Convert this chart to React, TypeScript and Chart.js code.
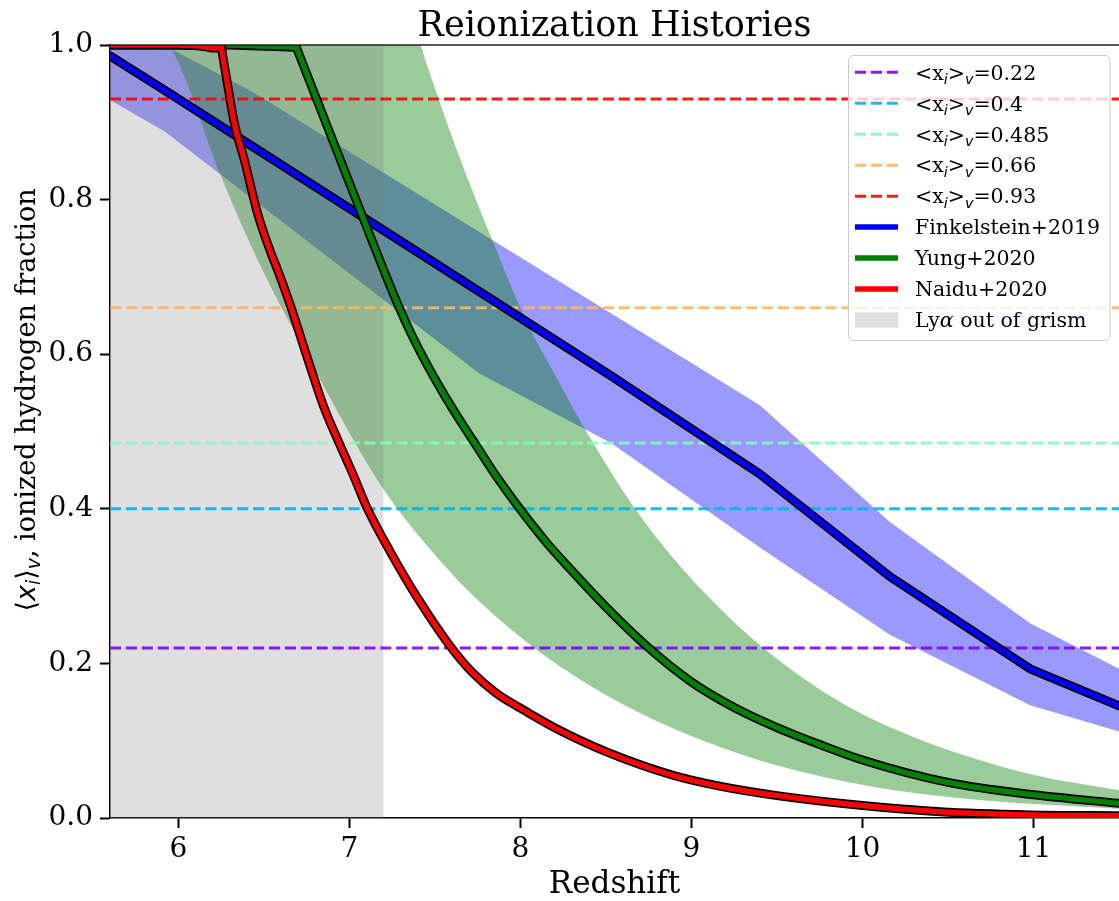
import React, { useEffect, useRef } from 'react';
import { Chart, registerables } from 'chart.js';

Chart.register(...registerables);

// ---------- axes ----------
const xMin = 5.6;
const xMax = 11.5;
const yMin = 0;
const yMax = 1;
const xTickValues = [6, 7, 8, 9, 10, 11];
const yTickValues = [0, 0.2, 0.4, 0.6, 0.8, 1.0];

// ---------- Finkelstein+2019 ----------
const finkelZ = [5.6, 5.93, 8.53, 9.4, 10.16, 10.98, 11.5];
const finkelF = [0.986, 0.94, 0.572, 0.445, 0.3125, 0.193, 0.145];
const finkelUpZ = [5.6, 5.93, 6.43, 9.4, 10.16, 10.98, 11.5];
const finkelUpF = [1.0, 0.998, 0.94, 0.534, 0.383, 0.252, 0.193];
const finkelLowZ = [5.6, 5.92, 7.76, 8.53, 9.4, 10.16, 10.98, 11.5];
const finkelLowF = [0.929, 0.888, 0.575, 0.485, 0.35, 0.237, 0.146, 0.112];

// ---------- Yung+2020 ----------
const yungPlateauZ = [5.6, 6.3, 6.69];
const yungPlateauF = [1.0, 1.0, 0.997];
const yungZ = [6.69, 6.755, 6.93, 7.1, 7.2, 7.28, 7.36, 7.45, 7.55, 7.65, 7.75, 7.85, 8.0, 8.15, 8.3, 8.5, 8.74, 9.0, 9.25, 9.5, 9.75, 10.0, 10.5, 11.0, 11.5];
const yungF = [0.997, 0.96, 0.861, 0.765, 0.709, 0.666, 0.627, 0.588, 0.549, 0.513, 0.479, 0.445, 0.399, 0.357, 0.32, 0.273, 0.222, 0.176, 0.143, 0.117, 0.095, 0.075, 0.046, 0.03, 0.019];
const yungUpZ = [5.6, 7.41, 7.45, 7.53, 7.64, 7.84, 8.03, 8.19, 8.42, 8.67, 8.89, 9.18, 9.42, 9.87, 10.32, 10.98, 11.5];
const yungUpF = [1.0, 1.0, 0.976, 0.925, 0.857, 0.745, 0.645, 0.578, 0.487, 0.4, 0.337, 0.268, 0.22, 0.15, 0.103, 0.057, 0.036];
const yungLowZ = [5.6, 5.93, 6.0, 6.24, 6.5, 6.775, 6.97, 7.2, 7.55, 7.76, 8.11, 8.5, 8.89, 9.28, 9.5, 10.07, 10.65, 11.5];
const yungLowF = [1.0, 1.0, 0.977, 0.835, 0.705, 0.59, 0.51, 0.425, 0.328, 0.28, 0.215, 0.159, 0.116, 0.083, 0.068, 0.04, 0.024, 0.012];

// ---------- Naidu+2020 ----------
const naiduZ = [5.6, 6.0, 6.15, 6.21, 6.25, 6.26, 6.28, 6.327, 6.386, 6.463, 6.541, 6.58, 6.658, 6.75, 6.85, 6.94, 7.02, 7.106, 7.24, 7.4, 7.59, 7.72, 7.856, 8.0, 8.206, 8.5, 8.887, 9.18, 9.5, 9.97, 10.455, 10.98, 11.5];
const naiduF = [1.0, 1.0, 0.998, 0.996, 0.997, 0.985, 0.959, 0.899, 0.851, 0.782, 0.731, 0.709, 0.661, 0.598, 0.532, 0.485, 0.445, 0.4, 0.344, 0.284, 0.222, 0.188, 0.162, 0.142, 0.116, 0.0858, 0.0556, 0.0405, 0.029, 0.0168, 0.008, 0.004, 0.003];

// ---------- thresholds & grism ----------
const thresholdValues = [0.22, 0.4, 0.485, 0.66, 0.93];
const thresholdColors = [
  'rgba(128,0,255,0.9)',
  'rgba(0,180,236,0.9)',
  'rgba(128,255,180,0.9)',
  'rgba(255,180,98,0.9)',
  'rgba(255,0,0,0.9)',
];
const grismSpan = [5.6, 7.2];

const modelNames = ['Finkelstein+2019', 'Yung+2020', 'Naidu+2020'];
const modelColors = ['#0000ff', '#008000', '#ff0000'];
const grismLabel = 'Lyα out of grism';

const SERIF = '"DejaVu Serif"';
const SANS = '"DejaVu Sans"';

type Part = { t: string; italic?: boolean; sub?: boolean; family?: string };

function richWidth(ctx: CanvasRenderingContext2D, parts: Part[], size: number) {
  let w = 0;
  for (const p of parts) {
    ctx.font = `${p.italic ? 'italic ' : ''}${p.sub ? size * 0.7 : size}px ${p.family || SERIF}`;
    w += ctx.measureText(p.t).width;
  }
  return w;
}

function drawRich(ctx: CanvasRenderingContext2D, parts: Part[], x: number, y: number, size: number) {
  let cx = x;
  ctx.textBaseline = 'alphabetic';
  ctx.textAlign = 'left';
  for (const p of parts) {
    const s = p.sub ? size * 0.7 : size;
    ctx.font = `${p.italic ? 'italic ' : ''}${s}px ${p.family || SERIF}`;
    ctx.fillText(p.t, cx, y + (p.sub ? size * 0.2 : 0));
    cx += ctx.measureText(p.t).width;
  }
}

function thresholdParts(v: number): Part[] {
  return [
    { t: '<x' },
    { t: 'i', italic: true, sub: true, family: SANS },
    { t: '>' },
    { t: 'v', italic: true, sub: true, family: SANS },
    { t: '=' + String(v) },
  ];
}

const decorPlugin = {
  id: 'decor',
  afterDraw(chart: any) {
    const ctx: CanvasRenderingContext2D = chart.ctx;
    const a = chart.chartArea;
    ctx.save();
    // top spine
    ctx.strokeStyle = '#222';
    ctx.lineWidth = 1.5;
    ctx.setLineDash([]);
    ctx.beginPath();
    ctx.moveTo(a.left, a.top);
    ctx.lineTo(a.right, a.top);
    ctx.stroke();

    ctx.fillStyle = '#000';
    // title
    ctx.font = `35px ${SERIF}`;
    ctx.textAlign = 'center';
    ctx.textBaseline = 'alphabetic';
    ctx.fillText('Reionization Histories', (a.left + a.right) / 2, 36);
    // x label
    ctx.font = `31px ${SERIF}`;
    ctx.fillText('Redshift', (a.left + a.right) / 2, 893);
    // y label
    const yParts: Part[] = [
      { t: '⟨', family: SANS },
      { t: 'x', italic: true, family: SANS },
      { t: 'i', italic: true, sub: true, family: SANS },
      { t: '⟩', family: SANS },
      { t: 'v', italic: true, sub: true, family: SANS },
      { t: ', ionized hydrogen fraction' },
    ];
    const ySize = 27;
    const yw = richWidth(ctx, yParts, ySize);
    ctx.save();
    ctx.translate(35, 400 + yw / 2);
    ctx.rotate(-Math.PI / 2);
    drawRich(ctx, yParts, 0, 0, ySize);
    ctx.restore();

    // legend
    const lx = 848.5, ly = 55.5, lw = 261.5, lh = 285, r = 5;
    ctx.beginPath();
    ctx.moveTo(lx + r, ly);
    ctx.arcTo(lx + lw, ly, lx + lw, ly + lh, r);
    ctx.arcTo(lx + lw, ly + lh, lx, ly + lh, r);
    ctx.arcTo(lx, ly + lh, lx, ly, r);
    ctx.arcTo(lx, ly, lx + lw, ly, r);
    ctx.closePath();
    ctx.fillStyle = 'rgba(255,255,255,0.8)';
    ctx.fill();
    ctx.strokeStyle = 'rgba(204,204,204,1)';
    ctx.lineWidth = 1;
    ctx.stroke();

    const hx0 = 855, hx1 = 898, tx = 915, row0 = 72.3, step = 30.96, fsz = 20.5;
    let row = 0;
    thresholdValues.forEach((v, i) => {
      const cy = row0 + step * row;
      ctx.strokeStyle = thresholdColors[i];
      ctx.lineWidth = 3;
      ctx.setLineDash([11.1, 4.8]);
      ctx.beginPath();
      ctx.moveTo(hx0, cy);
      ctx.lineTo(hx1, cy);
      ctx.stroke();
      ctx.setLineDash([]);
      ctx.fillStyle = '#000';
      drawRich(ctx, thresholdParts(v), tx, cy + 7.3, fsz);
      row++;
    });
    modelNames.forEach((name, i) => {
      const cy = row0 + step * row;
      ctx.strokeStyle = modelColors[i];
      ctx.lineWidth = 5.5;
      ctx.beginPath();
      ctx.moveTo(hx0, cy);
      ctx.lineTo(hx1, cy);
      ctx.stroke();
      ctx.fillStyle = '#000';
      drawRich(ctx, [{ t: name }], tx, cy + 7.3, fsz);
      row++;
    });
    {
      const cy = row0 + step * row;
      ctx.fillStyle = 'rgba(128,128,128,0.25)';
      ctx.fillRect(hx0, cy - 7.5, hx1 - hx0, 15);
      ctx.fillStyle = '#000';
      drawRich(ctx, [{ t: 'Ly' }, { t: 'α', italic: true }, { t: ' out of grism' }], tx, cy + 7.3, fsz);
    }
    ctx.restore();
  },
};

function pts(zs: number[], fs: number[]) {
  return zs.map((z, i) => ({ x: z, y: fs[i] }));
}

export default function App() {
  const ref = useRef<HTMLCanvasElement>(null);

  useEffect(() => {
    const canvas = ref.current;
    if (!canvas) return;
    const base = { pointRadius: 0, pointHoverRadius: 0, tension: 0, clip: 0, borderJoinStyle: 'round' as const, borderCapStyle: 'round' as const };
    const smooth = { cubicInterpolationMode: 'monotone' as const };
    const datasets: any[] = [];

    // Finkelstein band (piecewise linear)
    datasets.push({ ...base, label: 'fl', data: pts(finkelLowZ, finkelLowF), borderColor: 'transparent', borderWidth: 0, fill: false, order: 100 });
    datasets.push({ ...base, label: 'fu', data: pts(finkelUpZ, finkelUpF), borderColor: 'transparent', borderWidth: 0, fill: '-1', backgroundColor: 'rgba(0,0,255,0.4)', order: 100 });
    // Yung band (smooth)
    datasets.push({ ...base, ...smooth, label: 'yl', data: pts(yungLowZ, yungLowF), borderColor: 'transparent', borderWidth: 0, fill: false, order: 90 });
    datasets.push({ ...base, ...smooth, label: 'yu', data: pts(yungUpZ, yungUpF), borderColor: 'transparent', borderWidth: 0, fill: '-1', backgroundColor: 'rgba(0,128,0,0.4)', order: 90 });
    // grism span
    datasets.push({ ...base, label: grismLabel, data: [{ x: grismSpan[0], y: yMax }, { x: grismSpan[1], y: yMax }], borderColor: 'transparent', borderWidth: 0, fill: 'origin', backgroundColor: 'rgba(128,128,128,0.25)', order: 80 });
    // thresholds
    thresholdValues.forEach((v, i) => {
      datasets.push({ ...base, borderCapStyle: 'butt', label: 't' + v, data: [{ x: xMin, y: v }, { x: xMax, y: v }], borderColor: thresholdColors[i], borderWidth: 3, borderDash: [11.1, 4.8], fill: false, order: 70 });
    });
    // model lines with black outlines
    const models: { data: { x: number; y: number }[]; smooth: boolean; color: string; name: string; order: number }[] = [
      { data: pts(finkelZ, finkelF), smooth: false, color: modelColors[0], name: modelNames[0], order: 60 },
      { data: pts(yungPlateauZ, yungPlateauF), smooth: false, color: modelColors[1], name: modelNames[1] + ' plateau', order: 50 },
      { data: pts(yungZ, yungF), smooth: true, color: modelColors[1], name: modelNames[1], order: 50 },
      { data: pts(naiduZ, naiduF), smooth: true, color: modelColors[2], name: modelNames[2], order: 40 },
    ];
    models.forEach((m) => {
      const extra = m.smooth ? smooth : {};
      datasets.push({ ...base, ...extra, label: m.name + ' edge', data: m.data, borderColor: '#000', borderWidth: 9, fill: false, order: m.order });
    });
    models.forEach((m) => {
      const extra = m.smooth ? smooth : {};
      datasets.push({ ...base, ...extra, label: m.name, data: m.data, borderColor: m.color, borderWidth: 5.5, fill: false, order: m.order - 1 });
    });

    const tickFont = { family: 'DejaVu Serif', size: 28 };
    const chart = new Chart(canvas, {
      type: 'line',
      data: { datasets },
      plugins: [decorPlugin],
      options: {
        responsive: false,
        animation: false,
        events: [],
        layout: { padding: { top: 45, left: 0, right: 0, bottom: 0 } },
        plugins: {
          legend: { display: false },
          title: { display: false },
          tooltip: { enabled: false },
        },
        scales: {
          x: {
            type: 'linear',
            min: xMin,
            max: xMax,
            z: 1,
            afterBuildTicks: (s: any) => {
              s.ticks = xTickValues.map((value) => ({ value }));
            },
            afterFit: (s: any) => {
              s.height = 83;
            },
            grid: { display: true, drawOnChartArea: false, drawTicks: true, tickLength: 10, tickWidth: 2, tickColor: '#000', color: '#000' },
            border: { display: true, color: '#000', width: 1.5 },
            ticks: { font: tickFont, color: '#000', padding: 5, maxRotation: 0, autoSkip: false, callback: (v: any) => String(v) },
          },
          y: {
            type: 'linear',
            min: yMin,
            max: yMax,
            z: 1,
            afterBuildTicks: (s: any) => {
              s.ticks = yTickValues.map((value) => ({ value }));
            },
            afterFit: (s: any) => {
              s.width = 110;
            },
            grid: { display: true, drawOnChartArea: false, drawTicks: true, tickLength: 10, tickWidth: 2, tickColor: '#000', color: '#000' },
            border: { display: true, color: '#000', width: 1.5 },
            ticks: { font: tickFont, color: '#000', padding: 7, autoSkip: false, callback: (v: any) => Number(v).toFixed(1) },
          },
        },
      } as any,
    });
    return () => chart.destroy();
  }, []);

  return (
    <div style={{ position: 'fixed', left: 0, top: 0, width: 1119, height: 901, background: '#fff' }}>
      <canvas ref={ref} width={1119} height={901} style={{ display: 'block' }} />
    </div>
  );
}
